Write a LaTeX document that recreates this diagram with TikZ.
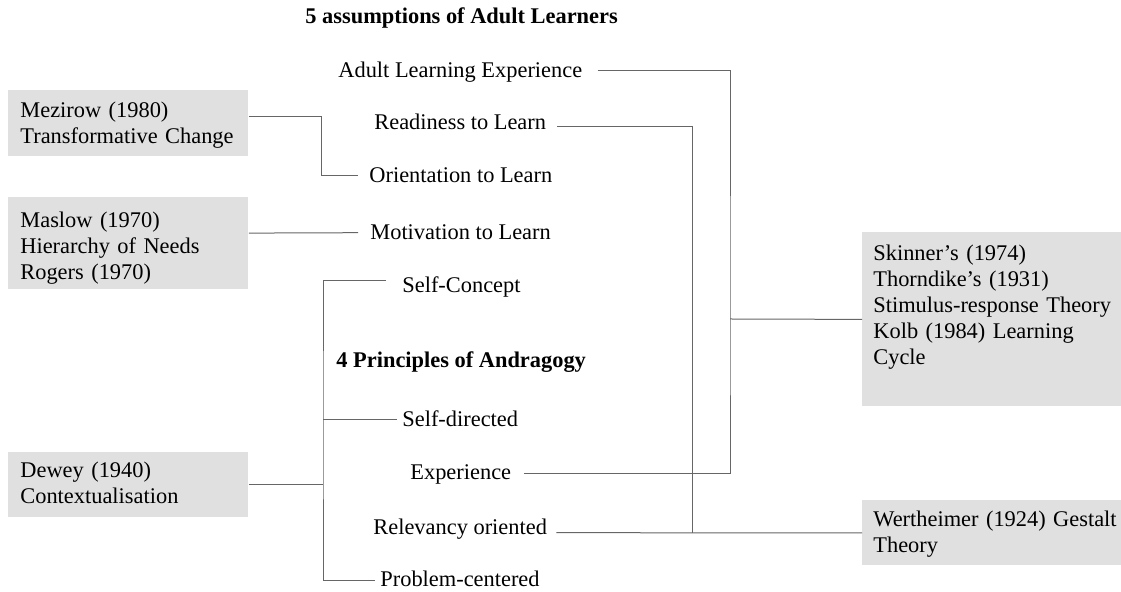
\documentclass[tikz,border=0pt]{standalone}
\usepackage{fontspec}
\setmainfont{Liberation Serif}
\definecolor{boxgray}{RGB}{224,224,224}
\begin{document}
\begin{tikzpicture}[x=0.5pt,y=-0.5pt,font=\fontsize{11.2}{13}\selectfont,
	item/.style={anchor=base west,inner sep=0pt},
	head/.style={item,font=\fontsize{11.2}{13}\selectfont\bfseries},
	theory/.style={fill=boxgray,anchor=north west,inner xsep=6pt,inner ysep=0pt,text width=108pt,align=left},
	wide/.style={theory,inner xsep=5.5pt,text width=122pt},
	link/.style={draw=black!60,line width=0.5pt}]
				\useasboundingbox (0,0) rectangle (1121,592);
				% headings
				\node[head] (assume) at (305,24) {5 assumptions of Adult Learners};
				\node[head] (princ) at (336,368) {4 Principles of Andragogy};
				% middle column
				\node[item] (adult) at (338,77.3) {Adult Learning Experience};
				\node[item] (ready) at (374,130) {Readiness to Learn};
				\node[item] (orient) at (369,183) {Orientation to Learn};
				\node[item] (motiv) at (370,240) {Motivation to Learn};
				\node[item] (selfc) at (402,292.5) {Self-Concept};
				\node[item] (selfd) at (402,427) {Self-directed};
				\node[item] (exper) at (410,480) {Experience};
				\node[item] (relev) at (373,535) {Relevancy oriented};
				\node[item] (probl) at (380,587) {Problem-centered};
				% theory boxes
				\node[theory,text height=13.5pt,text depth=19.5pt] (mezirow) at (8,90) {Mezirow (1980)\\Transformative Change};
				\node[theory,text height=15pt,text depth=31pt] (maslow) at (8,197) {Maslow (1970)\\Hierarchy of Needs\\Rogers (1970)};
				\node[theory,text height=12.5pt,text depth=20pt] (dewey) at (8,452) {Dewey (1940)\\Contextualisation};
				\node[wide,text height=14pt,text depth=73pt] (skinner) at (862,232) {Skinner's (1974)\\Thorndike's (1931)\\Stimulus-response Theory\\Kolb (1984) Learning\\Cycle};
				\node[wide,text height=13pt,text depth=19.5pt] (werth) at (862,500) {Wertheimer (1924) Gestalt\\Theory};
				% connectors
				\coordinate (lsp) at (323,420);
				\coordinate (rsp) at (730,319);
				\coordinate (msp) at (692.7,532.7);
				\draw[link] ([shift={(0,-7.3)}]mezirow.east) -| (321,176) -- ([shift={(-11,-7)}]orient.base west);
				\draw[link] ([shift={(0,-10.3)}]maslow.east) -- ([shift={(-12,-7.3)}]motiv.base west);
				\draw[link] ([shift={(-16,-11.8)}]selfc.base west) -| (lsp) |- ([shift={(-5,-6.3)}]probl.base west);
				\draw[link] (lsp) -- ([shift={(-5,-7)}]selfd.base west);
				\draw[link] (dewey.east) -- (dewey.east -| lsp);
				\draw[link] ([shift={(15,-6.6)}]adult.base east) -| (rsp) |- ([shift={(12.7,-6.7)}]exper.base east);
				\draw[link] (rsp) -- (skinner.west);
				\draw[link] ([shift={(11,-3)}]ready.base east) -| (msp);
				\draw[link] ([shift={(9,-2.3)}]relev.base east) -- (werth.west);
			\end{tikzpicture}
\end{document}
